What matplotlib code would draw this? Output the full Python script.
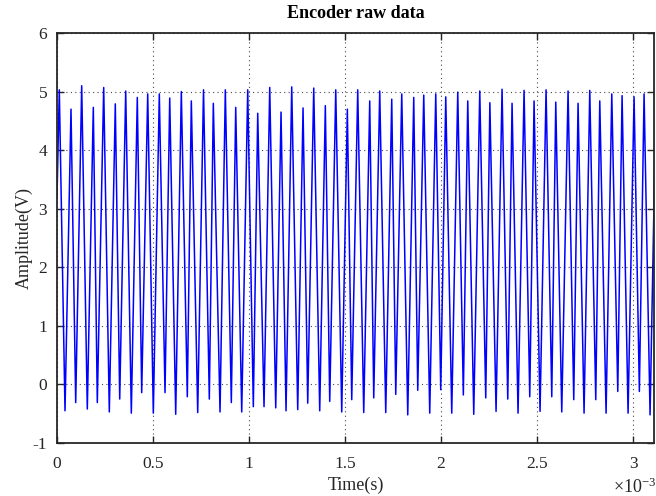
import matplotlib
matplotlib.use("Agg")
import matplotlib.pyplot as plt
from matplotlib.ticker import FuncFormatter

# Extremum points of the encoder waveform (time in ms, amplitude in V)
time_ms = [
    0.000, 0.012, 0.0417, 0.0729, 0.0974, 0.1286, 0.1578, 0.1891, 0.2099, 0.2432,
    0.2724, 0.3036, 0.3266, 0.3578, 0.3870, 0.4182, 0.4411, 0.4724, 0.5016, 0.5328,
    0.5625, 0.5870, 0.6182, 0.6474, 0.6786, 0.6995, 0.7328, 0.7630, 0.7932, 0.8141,
    0.8490, 0.8766, 0.9078, 0.9307, 0.9620, 0.9932, 1.0224, 1.0453, 1.0781, 1.1078,
    1.1391, 1.1667, 1.1927, 1.2224, 1.2536, 1.2813, 1.3057, 1.3370, 1.3682, 1.3974,
    1.4203, 1.4516, 1.4828, 1.5120, 1.5349, 1.5661, 1.5974, 1.6286, 1.6495, 1.6807,
    1.7120, 1.7432, 1.7641, 1.7953, 1.8266, 1.8578, 1.8786, 1.9099, 1.9411, 1.9724,
    1.9984, 2.0245, 2.0557, 2.0870, 2.1161, 2.1391, 2.1703, 2.2016, 2.2328, 2.2542,
    2.2865, 2.3177, 2.3474, 2.3698, 2.4010, 2.4323, 2.4620, 2.4844, 2.5156, 2.5469,
    2.5766, 2.5974, 2.6286, 2.6615, 2.6911, 2.7135, 2.7448, 2.7745, 2.8057, 2.8266,
    2.8594, 2.8891, 2.9203, 2.9427, 2.9740, 3.0052, 3.0328, 3.0573, 3.0885, 3.1198,
]
amplitude = [
    3.20, 5.03, -0.45, 4.70, -0.31, 5.10, -0.42, 4.73, -0.31, 5.07,
    -0.47, 4.79, -0.25, 5.01, -0.49, 4.90, -0.14, 4.96, -0.49, 4.96,
    -0.14, 4.89, -0.51, 5.00, -0.21, 4.84, -0.48, 5.03, -0.25, 4.80,
    -0.47, 5.03, -0.31, 4.73, -0.47, 5.03, -0.38, 4.63, -0.38, 5.07,
    -0.40, 4.65, -0.45, 5.08, -0.43, 4.72, -0.32, 5.06, -0.45, 4.76,
    -0.29, 5.03, -0.47, 4.70, -0.26, 5.03, -0.48, 4.84, -0.23, 5.01,
    -0.48, 4.87, -0.17, 4.96, -0.52, 4.90, -0.10, 4.94, -0.49, 4.96,
    -0.09, 4.91, -0.49, 4.99, -0.18, 4.84, -0.51, 5.01, -0.23, 4.81,
    -0.46, 5.04, -0.25, 4.80, -0.49, 5.02, -0.21, 4.84, -0.46, 5.03,
    -0.21, 4.82, -0.47, 5.01, -0.26, 4.80, -0.49, 5.02, -0.26, 4.84,
    -0.49, 4.96, -0.12, 4.93, -0.49, 4.91, -0.12, 4.96, -0.52, 5.00,
]
x_ticks_ms = [0, 0.5, 1, 1.5, 2, 2.5, 3]
y_ticks = [-1, 0, 1, 2, 3, 4, 5, 6]

plt.rcParams['font.family'] = ['Liberation Serif', 'DejaVu Serif']
plt.rcParams['mathtext.fontset'] = 'custom'
plt.rcParams['mathtext.rm'] = 'Liberation Serif'
plt.rcParams['mathtext.it'] = 'Liberation Serif:italic'
plt.rcParams['mathtext.default'] = 'rm'

fig = plt.figure(figsize=(6.56, 4.96), dpi=100)
ax = fig.add_axes([57/656, 53/496, (654-57)/656, (443-33)/496])

t = [v * 1e-3 for v in time_ms]
ax.plot(t, amplitude, color=(0, 0, 1), linewidth=1.1, clip_on=True)

ax.set_xlim(0, 3.109e-3)
ax.set_ylim(-1, 6)
ax.set_xticks([v * 1e-3 for v in x_ticks_ms])
ax.set_yticks(y_ticks)
ax.xaxis.set_major_formatter(FuncFormatter(lambda v, p: f"{v*1e3:g}"))
ax.yaxis.set_major_formatter(FuncFormatter(lambda v, p: f"{v:g}"))

ax.grid(True, linestyle=(0, (1, 3)), color='#333333', linewidth=0.8, alpha=0.9)
ax.tick_params(axis='both', direction='in', top=True, right=True, length=5, width=1.0,
               labelsize=12.5, colors='#262626')
ax.tick_params(axis='x', pad=9)
ax.tick_params(axis='y', pad=7)
for s in ax.spines.values():
    s.set_linewidth(1.3)
    s.set_color('#262626')

ax.set_title('Encoder raw data', fontsize=13, fontweight='bold', pad=11)
ax.set_xlabel('Time(s)', fontsize=13, labelpad=4, color='#262626')
ax.set_ylabel('Amplitude(V)', fontsize=13, labelpad=0, color='#262626')
fig.text(656/656, 3/496, r'$\times10^{-3}$', ha='right', va='baseline',
         fontsize=13, color='#262626')

fig.savefig('out.png', dpi=100)
